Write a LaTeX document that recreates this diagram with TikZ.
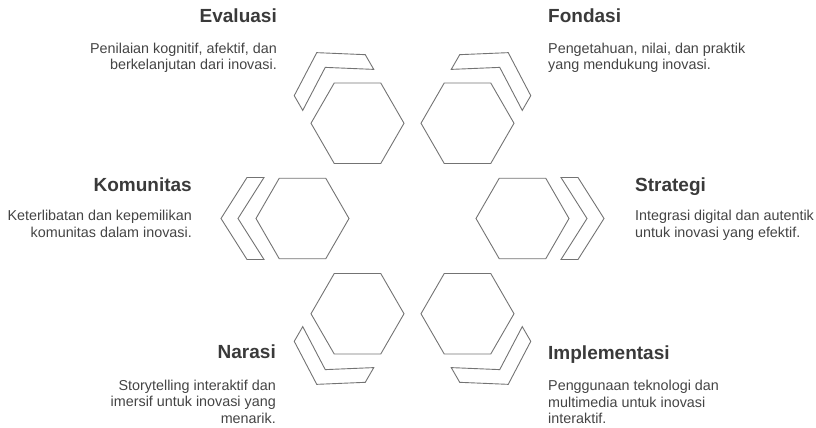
\documentclass[tikz,border=0pt]{standalone}
\usepackage{fontspec}
\setmainfont{Liberation Sans}
\usepackage{tikz}
\usetikzlibrary{positioning,shapes.geometric}

\definecolor{lineGray}{HTML}{737373}
\definecolor{titleGray}{HTML}{3A3A3A}
\definecolor{bodyGray}{HTML}{444444}

\begin{document}
\begin{tikzpicture}[x=1pt,y=1pt]
		\tikzstyle{hexagon} = [regular polygon, regular polygon sides=6, minimum size=93pt,
		inner sep=0pt, draw=lineGray, line width=0.9pt]
		\tikzstyle{chevron} = [draw=lineGray, line width=0.9pt, line join=miter]
		\tikzstyle{heading} = [inner sep=0pt, text=titleGray, font=\fontsize{19}{22}\selectfont\bfseries]
		\tikzstyle{leftinfo} = [inner sep=0pt, text=bodyGray, align=right,
		font=\fontsize{14.35}{16.5}\selectfont]
		\tikzstyle{rightinfo} = [inner sep=0pt, text=bodyGray, align=left,
		font=\fontsize{14.35}{16.5}\selectfont]
		\useasboundingbox (-412.5,-209.5) rectangle (403.5,218.5);
		\coordinate (hub) at (0,0);
		% hexagon ring
		\node (hexStrategi) [hexagon] at (0:110) {};
		\node (hexFondasi) [hexagon] at (60:110) {};
		\node (hexEvaluasi) [hexagon] at (120:110) {};
		\node (hexKomunitas) [hexagon] at (180:110) {};
		\node (hexNarasi) [hexagon] at (240:110) {};
		\node (hexImplementasi) [hexagon] at (300:110) {};
		% chevrons outside the hexagons
		\draw [chevron, shift={(hexStrategi.center)}, rotate=0] (38.5,41) -- (64.5,0) -- (38.5,-41) -- (55.5,-41) -- (81.5,0) -- (55.5,41) -- cycle;
		\draw [chevron, shift={(hexFondasi.center)}, rotate=60] (38.5,41) -- (64.5,0) -- (38.5,-41) -- (55.5,-41) -- (81.5,0) -- (55.5,41) -- cycle;
		\draw [chevron, shift={(hexEvaluasi.center)}, rotate=120] (38.5,41) -- (64.5,0) -- (38.5,-41) -- (55.5,-41) -- (81.5,0) -- (55.5,41) -- cycle;
		\draw [chevron, shift={(hexKomunitas.center)}, rotate=180] (38.5,41) -- (64.5,0) -- (38.5,-41) -- (55.5,-41) -- (81.5,0) -- (55.5,41) -- cycle;
		\draw [chevron, shift={(hexNarasi.center)}, rotate=240] (38.5,41) -- (64.5,0) -- (38.5,-41) -- (55.5,-41) -- (81.5,0) -- (55.5,41) -- cycle;
		\draw [chevron, shift={(hexImplementasi.center)}, rotate=300] (38.5,41) -- (64.5,0) -- (38.5,-41) -- (55.5,-41) -- (81.5,0) -- (55.5,41) -- cycle;
		% labels
		\node (evaluasi) [heading, anchor=base east] at (-135.5,195.8) {Evaluasi};
		\node (evaluasiText) [leftinfo, below=20pt of evaluasi.base east, anchor=north east]
		{Penilaian kognitif, afektif, dan\\berkelanjutan dari inovasi.};
		\node (fondasi) [heading, anchor=base west] at (135.5,195.8) {Fondasi};
		\node (fondasiText) [rightinfo, below=20pt of fondasi.base west, anchor=north west]
		{Pengetahuan, nilai, dan praktik\\yang mendukung inovasi.};
		\node (komunitas) [heading, anchor=base east] at (-220.5,26.5) {Komunitas};
		\node (komunitasText) [leftinfo, below=18pt of komunitas.base east, anchor=north east]
		{Keterlibatan dan kepemilikan\\komunitas dalam inovasi.};
		\node (strategi) [heading, anchor=base west] at (222.5,26.5) {Strategi};
		\node (strategiText) [rightinfo, below=18pt of strategi.base west, anchor=north west]
		{Integrasi digital dan autentik\\untuk inovasi yang efektif.};
		\node (narasi) [heading, anchor=base east] at (-136.5,-140) {Narasi};
		\node (narasiText) [leftinfo, below=21pt of narasi.base east, anchor=north east]
		{Storytelling interaktif dan\\imersif untuk inovasi yang\\menarik.};
		\node (implementasi) [heading, anchor=base west] at (135.5,-140.5) {Implementasi};
		\node (implementasiText) [rightinfo, below=21pt of implementasi.base west, anchor=north west]
		{Penggunaan teknologi dan\\multimedia untuk inovasi\\interaktif.};
\end{tikzpicture}
\end{document}
